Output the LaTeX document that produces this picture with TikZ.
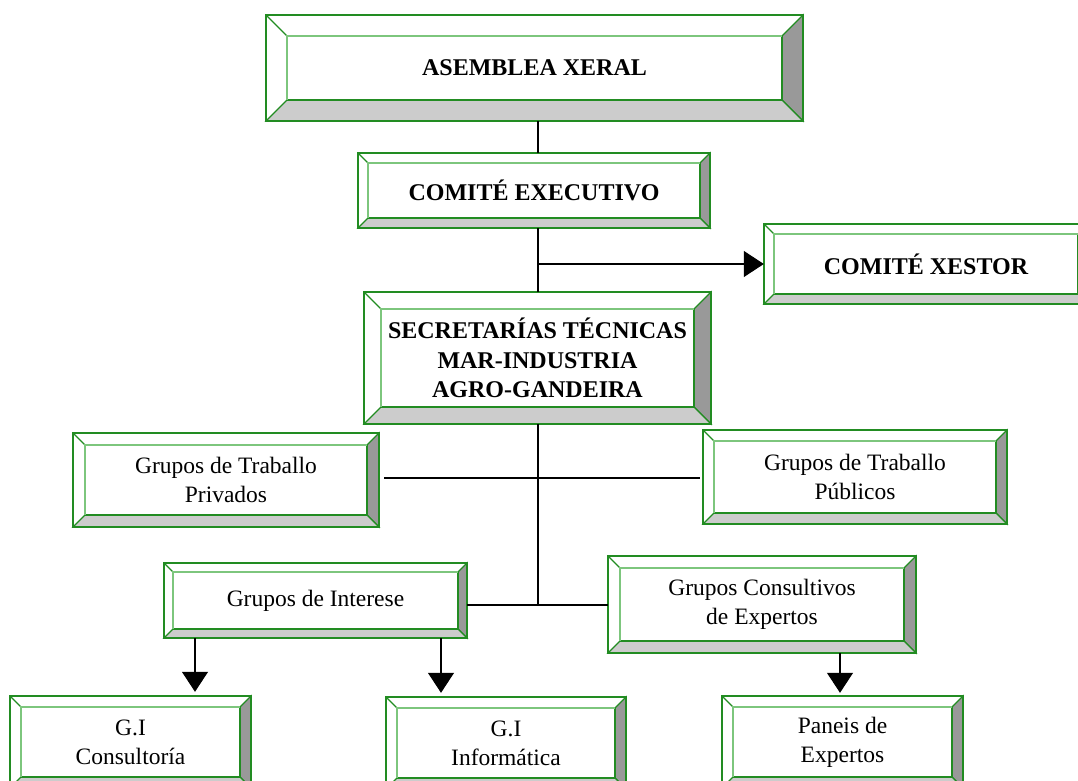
\documentclass[tikz,border=0pt]{standalone}
\usepackage{fontspec}
\setmainfont{Liberation Serif}
\usetikzlibrary{arrows.meta}
\definecolor{gdark}{RGB}{34,140,34}
\definecolor{glight}{RGB}{125,198,125}
\definecolor{bevR}{RGB}{153,153,153}
\definecolor{bevB}{RGB}{204,204,204}
\tikzset{
 bevedge/.style={draw=gdark, line width=1.2pt, line join=miter},
 bevlight/.style={draw=glight, line width=1.2pt},
 boxlabel/.style={inner sep=0pt, align=center, font=\fontsize{23.5}{29}\selectfont},
 boldlabel/.style={inner sep=0pt, align=center, font=\fontsize{24}{29.5}\selectfont\bfseries},
 conn/.style={draw=black, line width=1.1pt},
 arr/.style={conn, -{Triangle[length=20pt,width=26pt]}},
}
% #1 style, #2 name, #3 L, #4 T, #5 R, #6 B, #7 bevel, #8 text
\newcommand\bevbox[8]{%
 \fill[white] (#3,#4) rectangle (#5,#6);
 \filldraw[fill=bevR, bevedge] (#5,#4) -- (#5,#6) -- ({#5-#7},{#6-#7}) -- ({#5-#7},{#4+#7}) -- cycle;
 \filldraw[fill=bevB, bevedge] (#3,#6) -- (#5,#6) -- ({#5-#7},{#6-#7}) -- ({#3+#7},{#6-#7}) -- cycle;
 \draw[bevedge] (#3,#4) -- ({#3+#7},{#4+#7});
 \draw[bevedge] ({#5-#7},{#4+#7}) -- ({#5-#7},{#6-#7}) -- ({#3+#7},{#6-#7});
 \draw[bevlight] ({#3+#7},{#6-#7}) -- ({#3+#7},{#4+#7}) -- ({#5-#7},{#4+#7});
 \draw[bevedge] (#3,#4) rectangle (#5,#6);
 \node[#1, minimum width={#5pt-#3pt}, minimum height={#6pt-#4pt}] (#2) at ({(#3+#5)/2},{(#4+#6)/2}) {#8};
}
\begin{document}
\begin{tikzpicture}[x=1pt,y=-1pt]
\useasboundingbox[fill=white] (0,0) rectangle (1078,781);

\bevbox{boldlabel}{ase}{266}{15}{803}{121}{21}{ASEMBLEA XERAL}
\bevbox{boldlabel}{com}{358}{153}{710}{228}{10}{COMITÉ EXECUTIVO}
\bevbox{boldlabel}{xes}{764}{224}{1088}{304}{10}{COMITÉ XESTOR}
\bevbox{boldlabel}{sec}{364}{292}{711}{424}{17}{SECRETARÍAS TÉCNICAS\\MAR-INDUSTRIA\\AGRO-GANDEIRA}
\bevbox{boxlabel}{priv}{73}{433}{379}{527}{12}{Grupos de Traballo\\Privados}
\bevbox{boxlabel}{pub}{703}{430}{1007}{524}{11}{Grupos de Traballo\\Públicos}
\bevbox{boxlabel}{inter}{164}{563}{467}{638}{9}{Grupos de Interese}
\bevbox{boxlabel}{consul}{608}{556}{916}{653}{12}{Grupos Consultivos\\de Expertos}
\bevbox{boxlabel}{cons}{10}{696}{251}{788}{11}{G.I\\Consultoría}
\bevbox{boxlabel}{info}{386}{697}{626}{789}{11}{G.I\\Informática}
\bevbox{boxlabel}{pan}{722}{696}{963}{788}{11}{Paneis de\\Expertos}

\coordinate (tx) at (538,0);
\coordinate (j1) at (538,264);
\coordinate (j2) at (538,605);
\coordinate (j3) at (0,478);
\coordinate (a1) at (195,0);
\coordinate (a2) at (441,0);
\coordinate (a3) at (840,0);

\draw[conn] (ase.south -| tx) -- (com.north -| tx);
\draw[conn] (com.south -| tx) -- (sec.north -| tx);
\draw[arr] (j1) -- (xes.west);
\draw[conn] (sec.south -| tx) -- (j2);
\draw[conn, shorten <=5pt, shorten >=3pt] (priv.east |- j3) -- (pub.west |- j3);
\draw[conn] (inter.east |- j2) -- (consul.west |- j2);
\draw[arr, shorten >=4pt] (inter.south -| a1) -- (cons.north -| a1);
\draw[arr, shorten >=4pt] (inter.south -| a2) -- (info.north -| a2);
\draw[arr, shorten >=3pt] (consul.south -| a3) -- (pan.north -| a3);
\end{tikzpicture}
\end{document}
